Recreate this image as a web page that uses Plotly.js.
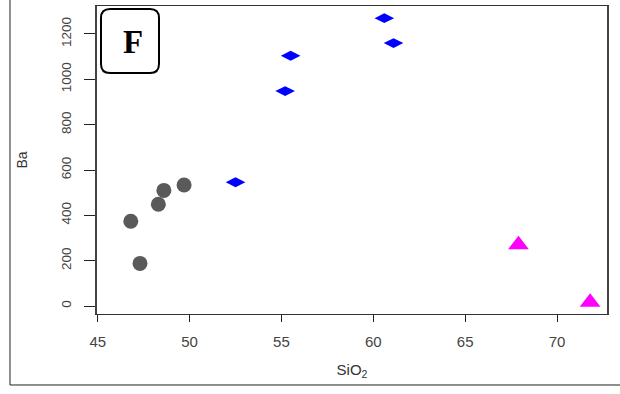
<!DOCTYPE html>
<html>
<head>
<meta charset="utf-8">
<script src="https://cdn.plot.ly/plotly-3.0.1.min.js"></script>
<style>
  html, body { margin: 0; padding: 0; background: #ffffff; }
  #chart { width: 620px; height: 394px; }
</style>
</head>
<body>
<div id="chart"></div>
<script>
// Ba vs SiO2 for three rock groups
const basaltSiO2 = [46.8, 47.3, 48.3, 48.6, 49.7];
const basaltBa   = [374, 188, 449, 510, 534];

const andesiteSiO2 = [52.5, 55.2, 55.5, 60.6, 61.1];
const andesiteBa   = [546, 948, 1104, 1270, 1160];

const rhyoliteSiO2 = [67.9, 71.8];
const rhyoliteBa   = [270, 17];

const xTicks = [45, 50, 55, 60, 65, 70];
const yTicks = [0, 200, 400, 600, 800, 1000, 1200];

const panelLabel = 'F';
const xTitle = 'SiO<sub>2</sub>';
const yTitle = 'Ba';

const sans = 'Liberation Sans, Arial, sans-serif';

const traces = [
  {
    x: basaltSiO2, y: basaltBa, type: 'scatter', mode: 'markers',
    marker: { symbol: 'circle', size: 15, color: '#5a5a5a', line: { width: 0 } }
  },
  {
    x: andesiteSiO2, y: andesiteBa, type: 'scatter', mode: 'markers',
    marker: { symbol: 'diamond-wide', size: 14, color: '#0000ff', line: { width: 0 } }
  },
  {
    x: rhyoliteSiO2, y: rhyoliteBa, type: 'scatter', mode: 'markers',
    marker: { symbol: 'triangle-up', size: 18, color: '#ff00ff', line: { width: 0 } }
  }
];

const layout = {
  width: 620,
  height: 394,
  margin: { l: 97, r: 13, t: 6, b: 80, pad: 0 },
  paper_bgcolor: '#ffffff',
  plot_bgcolor: '#ffffff',
  showlegend: false,
  xaxis: {
    range: [44.96, 72.72],
    tickmode: 'array',
    tickvals: xTicks,
    ticktext: xTicks.map(String),
    ticks: 'outside',
    ticklen: 7,
    tickwidth: 1,
    tickcolor: '#222222',
    ticklabelstandoff: 7,
    tickfont: { family: sans, size: 15, color: '#444444' },
    showline: true,
    linecolor: '#333333',
    linewidth: 1.3,
    mirror: true,
    showgrid: false,
    zeroline: false,
    title: { text: xTitle, standoff: 15, font: { family: sans, size: 15, color: '#333333' } }
  },
  yaxis: {
    range: [-35.3, 1323.5],
    tickmode: 'array',
    tickvals: yTicks,
    ticktext: yTicks.map(String),
    tickangle: -90,
    ticks: 'outside',
    ticklen: 11,
    tickwidth: 1,
    tickcolor: '#222222',
    ticklabelstandoff: 8,
    tickfont: { family: sans, size: 13.5, color: '#444444' },
    showline: true,
    linecolor: '#444444',
    linewidth: 1.8,
    mirror: true,
    showgrid: false,
    zeroline: false,
    title: { text: yTitle, standoff: 28, font: { family: sans, size: 14, color: '#333333' } }
  },
  shapes: [
    // outer figure frame
    {
      type: 'rect', xref: 'paper', yref: 'paper',
      x0: -0.1706, x1: 1.2, y0: -0.2305, y1: 1.2,
      line: { color: '#222222', width: 1 }, fillcolor: 'rgba(0,0,0,0)', layer: 'below'
    },
    // rounded panel-label box
    {
      type: 'path', xref: 'paper', yref: 'paper',
      xsizemode: 'pixel', ysizemode: 'pixel',
      xanchor: 0.0647, yanchor: 0.8864,
      path: 'M -29,-23 L -29,23 Q -29,32 -20,32 L 20,32 Q 29,32 29,23 L 29,-23 Q 29,-32 20,-32 L -20,-32 Q -29,-32 -29,-23 Z',
      line: { color: '#000000', width: 2 }, fillcolor: '#ffffff', layer: 'above'
    }
  ],
  annotations: [
    {
      text: '<b>' + panelLabel + '</b>', xref: 'paper', yref: 'paper',
      x: 0.0706, y: 0.8847, xanchor: 'center', yanchor: 'middle', showarrow: false,
      font: { family: 'Liberation Serif, Times New Roman, serif', size: 33, color: '#000000' }
    }
  ]
};

Plotly.newPlot('chart', traces, layout, { displayModeBar: false, staticPlot: true });
</script>
</body>
</html>
